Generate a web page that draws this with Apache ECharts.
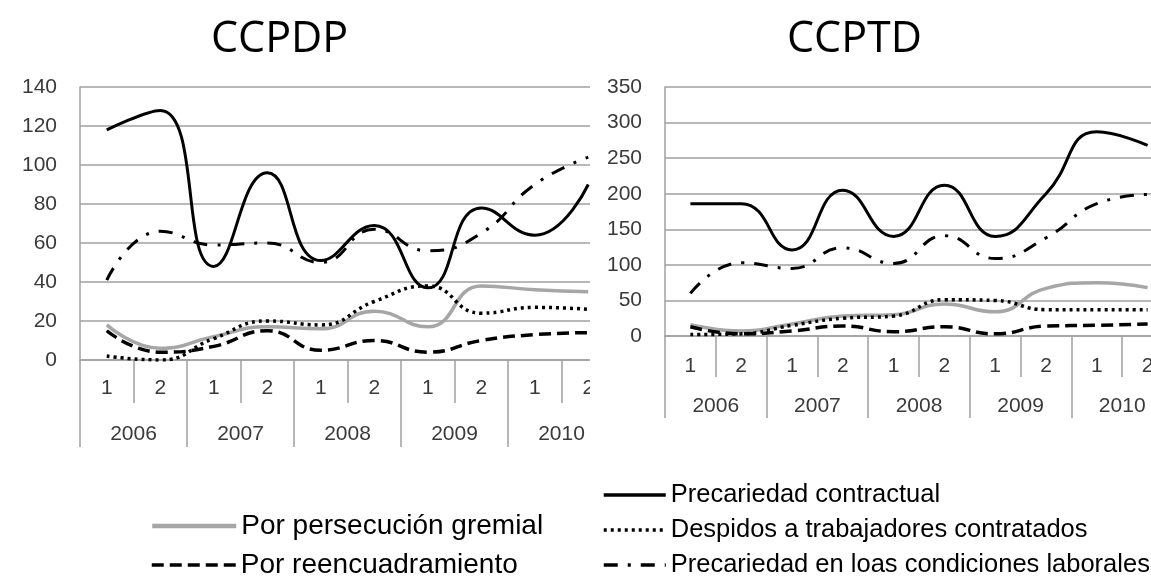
<!DOCTYPE html>
<html>
<head>
<meta charset="utf-8">
<script src="https://cdn.jsdelivr.net/npm/echarts@6/dist/echarts.min.js"></script>
<style>
  html, body { margin: 0; padding: 0; background: #fff; }
  #page { position: relative; width: 1151px; height: 580px; overflow: hidden; }
  #main { position: absolute; left: 0; top: 0; width: 1151px; height: 580px; }
  #leftWrap { position: absolute; left: 0; top: 0; width: 590px; height: 460px; overflow: hidden; }
  #left { width: 640px; height: 460px; }
</style>
</head>
<body>
<div id="page">
  <div id="main"></div>
  <div id="leftWrap"><div id="left"></div></div>
</div>
<script>
// semestres y años
const halves = ['1', '2', '1', '2', '1', '2', '1', '2', '1', '2'];
const years = ['2006', '2007', '2008', '2009', '2010'];

// CCPDP
const ccpdpContractual = [118, 128, 48, 96, 51, 69, 37, 78, 64, 90];
const ccpdpLaborales = [41, 66, 59, 60, 50, 67, 56, 65, 90, 104];
const ccpdpGremial = [18, 6, 12, 17, 16, 25, 17, 38, 36, 35];
const ccpdpDespidos = [2, 0, 11, 20, 18, 30, 38, 24, 27, 26];
const ccpdpReencuadre = [15, 4, 7, 15, 5, 10, 4, 10, 13, 14];

// CCPTD
const ccptdContractual = [186, 186, 121, 205, 140, 212, 140, 200, 287, 268];
const ccptdLaborales = [60, 103, 95, 124, 102, 141, 109, 138, 186, 199];
const ccptdGremial = [16, 7, 17, 28, 30, 45, 34, 67, 75, 68];
const ccptdDespidos = [2, 3, 15, 25, 28, 51, 50, 37, 37, 37];
const ccptdReencuadre = [13, 3, 7, 14, 6, 13, 3, 14, 15, 17];

const N_CONTRACTUAL = 'Precariedad contractual';
const N_DESPIDOS = 'Despidos a trabajadores contratados';
const N_LABORALES = 'Precariedad en loas condiciones laborales';
const N_GREMIAL = 'Por persecución gremial';
const N_REENCUADRE = 'Por reencuadramiento';

const axisGray = '#a0a0a0';
const labelColor = '#3a3a3a';
const axisFont = 'Liberation Sans, Arial, sans-serif';

const lineStyles = {};
lineStyles[N_GREMIAL] = { color: '#a6a6a6', width: 3.5, type: 'solid' };
lineStyles[N_DESPIDOS] = { color: '#000', width: 3.5, type: [3, 4] };
lineStyles[N_REENCUADRE] = { color: '#000', width: 3.5, type: [12, 6] };
lineStyles[N_LABORALES] = { color: '#000', width: 3, type: [14, 10, 3, 10] };
lineStyles[N_CONTRACTUAL] = { color: '#000', width: 3, type: 'solid' };

function makeSeries(name, data) {
  const st = lineStyles[name];
  return {
    name: name,
    type: 'line',
    data: data,
    smooth: 0.5,
    symbol: 'none',
    showSymbol: false,
    color: st.color,
    lineStyle: { color: st.color, width: st.width, type: st.type, cap: 'butt' },
    silent: true,
    animation: false
  };
}

function makeAxes(g) {
  return {
    xAxis: [
      {
        type: 'category',
        data: halves,
        position: 'bottom',
        boundaryGap: true,
        axisLine: { show: true, lineStyle: { color: axisGray, width: 1.5 } },
        axisTick: { show: true, interval: 0, length: g.tick1, lineStyle: { color: axisGray, width: 1.5 } },
        axisLabel: { interval: 0, margin: g.margin1, fontSize: 21, color: labelColor, fontFamily: axisFont },
        splitLine: { show: false }
      },
      {
        type: 'category',
        data: years,
        position: 'bottom',
        boundaryGap: true,
        axisLine: { show: false },
        axisTick: { show: true, interval: 0, length: g.tick2, lineStyle: { color: axisGray, width: 1.5 } },
        axisLabel: { interval: 0, margin: g.margin2, fontSize: 21, color: labelColor, fontFamily: axisFont },
        splitLine: { show: false }
      }
    ],
    yAxis: {
      type: 'value',
      min: 0,
      max: g.max,
      interval: g.interval,
      axisLine: { show: true, lineStyle: { color: axisGray, width: 1.5 } },
      axisTick: { show: false },
      axisLabel: { margin: 23, fontSize: 21, color: labelColor, fontFamily: axisFont },
      splitLine: { show: true, lineStyle: { color: axisGray, width: 1.5 } }
    }
  };
}

// grafico izquierdo (recortado en 590px como el original)
const left = echarts.init(document.getElementById('left'), null, { renderer: 'canvas' });
const leftAxes = makeAxes({ tick1: 43, tick2: 87, margin1: 18, margin2: 64, max: 140, interval: 20 });
left.setOption({
  animation: false,
  grid: { left: 80, top: 87, width: 535, height: 273, outerBoundsMode: 'none', containLabel: false },
  xAxis: leftAxes.xAxis,
  yAxis: leftAxes.yAxis,
  series: [
    makeSeries(N_GREMIAL, ccpdpGremial),
    makeSeries(N_DESPIDOS, ccpdpDespidos),
    makeSeries(N_REENCUADRE, ccpdpReencuadre),
    makeSeries(N_LABORALES, ccpdpLaborales),
    makeSeries(N_CONTRACTUAL, ccpdpContractual)
  ]
});

// grafico derecho + titulos + leyenda
const main = echarts.init(document.getElementById('main'), null, { renderer: 'canvas' });
const rightAxes = makeAxes({ tick1: 41, tick2: 82, margin1: 20, margin2: 60, max: 350, interval: 50 });

function legendItem(name, x, y, w, fs) {
  return {
    data: [name],
    left: x,
    top: y,
    padding: 0,
    itemWidth: w,
    itemHeight: 12,
    selectedMode: false,
    itemStyle: { opacity: 0 },
    lineStyle: { width: name === N_GREMIAL ? 4.5 : 3.5 },
    textStyle: { fontSize: fs, color: '#000', fontFamily: axisFont }
  };
}

const titleStyle = { fontFamily: 'Open Sans, sans-serif', fontSize: 43, fontWeight: 'normal', color: '#000' };

main.setOption({
  animation: false,
  title: [
    { text: 'CCPDP', left: 206, top: 13, textStyle: titleStyle },
    { text: 'CCPTD', left: 782, top: 13, textStyle: titleStyle }
  ],
  legend: [
    legendItem(N_CONTRACTUAL, 602, 482, 62, 25.5),
    legendItem(N_DESPIDOS, 602, 517, 62, 25.5),
    legendItem(N_LABORALES, 602, 552, 62, 25.5),
    legendItem(N_GREMIAL, 150, 512, 84, 28),
    legendItem(N_REENCUADRE, 150, 551, 84, 28)
  ],
  grid: { left: 665, top: 87, width: 508, height: 249, outerBoundsMode: 'none', containLabel: false },
  xAxis: rightAxes.xAxis,
  yAxis: rightAxes.yAxis,
  series: [
    makeSeries(N_GREMIAL, ccptdGremial),
    makeSeries(N_DESPIDOS, ccptdDespidos),
    makeSeries(N_REENCUADRE, ccptdReencuadre),
    makeSeries(N_LABORALES, ccptdLaborales),
    makeSeries(N_CONTRACTUAL, ccptdContractual)
  ]
});
</script>
</body>
</html>
